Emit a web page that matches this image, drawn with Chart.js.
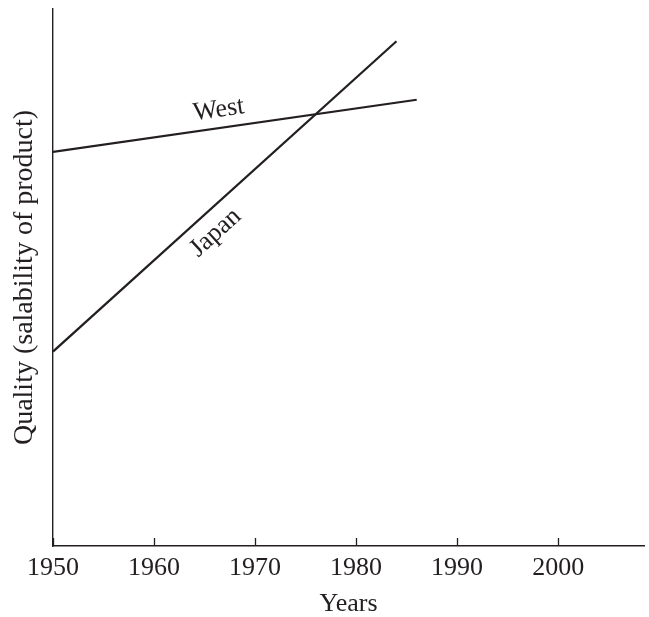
<!DOCTYPE html>
<html>
<head>
<meta charset="utf-8">
<script src="https://cdn.jsdelivr.net/npm/chart.js@4.4.1/dist/chart.umd.min.js"></script>
<style>
  html, body { margin: 0; padding: 0; background: #fff; }
  #wrap { width: 649px; height: 617px; }
</style>
</head>
<body>
<div id="wrap"><canvas id="qualityChart" width="649" height="617"></canvas></div>
<script>
// Data (quality has no units, 0-100 along the axis)
const yearTicks = [1950, 1960, 1970, 1980, 1990, 2000];
const westYears = [1950, 1986];
const westQuality = [73.4, 83.1];
const japanYears = [1950, 1984];
const japanQuality = [36.2, 94.0];

// where the inline line labels sit (year, quality)
const westLabelAt = [1966.4, 81.2];
const japanLabelAt = [1966.1, 58.3];

const ink = '#231f20';
const serif = '"Liberation Serif", "Times New Roman", serif';

// tick marks point up into the plot, labels follow the slope of their line
const inlineLabels = {
    id: 'inlineLabels',
    afterDatasetsDraw(chart) {
        const { ctx, scales: { x, y } } = chart;
        ctx.save();
        ctx.strokeStyle = ink;
        ctx.lineWidth = 1.3;
        x.ticks.forEach(t => {
            const px = Math.round(x.getPixelForValue(t.value)) + 0.5;
            ctx.beginPath();
            ctx.moveTo(px, y.bottom);
            ctx.lineTo(px, y.bottom - 8);
            ctx.stroke();
        });

        ctx.fillStyle = ink;
        ctx.font = '26px ' + serif;
        ctx.textAlign = 'center';
        ctx.textBaseline = 'middle';
        chart.data.datasets.forEach((ds, i) => {
            const pts = chart.getDatasetMeta(i).data;
            const a = pts[0], b = pts[pts.length - 1];
            const angle = Math.atan2(b.y - a.y, b.x - a.x);
            const lx = x.getPixelForValue(ds.labelAt[0]);
            const ly = y.getPixelForValue(ds.labelAt[1]);
            ctx.save();
            ctx.translate(lx, ly);
            ctx.rotate(angle);
            ctx.fillText(ds.label, 0, 0);
            ctx.restore();
        });
        ctx.restore();
    }
};

const ctx = document.getElementById('qualityChart').getContext('2d');
const qualityChart = new Chart(ctx, {
    type: 'line',
    data: {
        datasets: [{
            label: 'West',
            data: westYears.map((yr, i) => ({ x: yr, y: westQuality[i] })),
            labelAt: westLabelAt,
            borderColor: ink,
            borderWidth: 2.2,
            pointRadius: 0,
            tension: 0
        }, {
            label: 'Japan',
            data: japanYears.map((yr, i) => ({ x: yr, y: japanQuality[i] })),
            labelAt: japanLabelAt,
            borderColor: ink,
            borderWidth: 2.2,
            pointRadius: 0,
            tension: 0
        }]
    },
    options: {
        responsive: false,
        animation: false,
        layout: {
            padding: { top: 9, right: 5, left: 0, bottom: 0 }
        },
        plugins: {
            legend: { display: false },
            tooltip: { enabled: false }
        },
        scales: {
            x: {
                type: 'linear',
                min: 1950,
                max: 2008.5,
                afterBuildTicks: (scale) => {
                    scale.ticks = yearTicks.map(v => ({ value: v }));
                },
                afterFit: (scale) => { scale.height = 71; },
                grid: { display: false, drawTicks: false },
                border: { display: true, color: ink, width: 1.4 },
                ticks: {
                    color: ink,
                    padding: 7,
                    maxRotation: 0,
                    autoSkip: false,
                    callback: (value) => String(value),
                    font: { family: serif, size: 26 }
                },
                title: {
                    display: true,
                    text: 'Years',
                    color: ink,
                    padding: { top: 0, bottom: 0 },
                    font: { family: serif, size: 26, lineHeight: 1 }
                }
            },
            y: {
                min: 0,
                max: 100,
                afterFit: (scale) => { scale.width = 53; },
                grid: { display: false, drawTicks: false },
                border: { display: true, color: ink, width: 1.4 },
                ticks: { display: false },
                title: {
                    display: true,
                    text: 'Quality (salability of product)',
                    color: ink,
                    padding: { top: 11, bottom: 0 },
                    font: { family: serif, size: 28, lineHeight: 1 }
                }
            }
        }
    },
    plugins: [inlineLabels]
});
</script>
</body>
</html>
